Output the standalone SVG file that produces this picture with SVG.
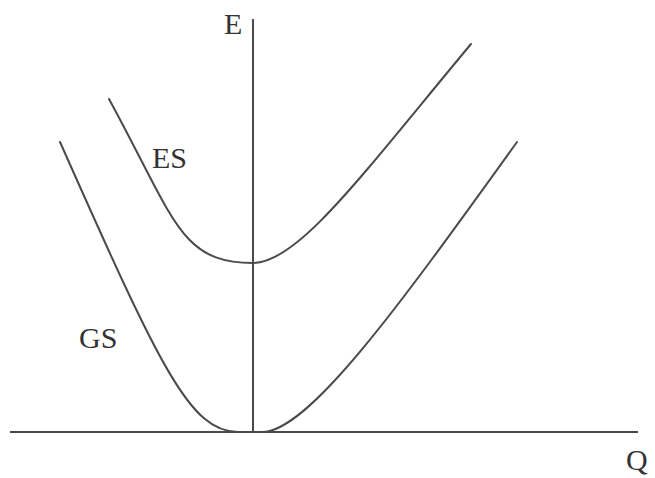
<svg xmlns="http://www.w3.org/2000/svg" width="655" height="478" viewBox="0 0 655 478">
<style>
.ax{stroke:#4a4a4a;stroke-width:2;fill:none}
.cv{stroke:#4a4a4a;stroke-width:2;fill:none;stroke-linecap:round}
.lb{font-family:"Liberation Serif","Times New Roman",serif;font-size:30px;fill:#333}
</style>
<rect width="655" height="478" fill="#ffffff"/>
<g id="axes">
<line class="ax" x1="253" y1="19" x2="253" y2="433"/>
<line class="ax" x1="10" y1="432" x2="638" y2="432"/>
</g>
<g id="curves">
<path id="es" class="cv" d="M109,99 C175,220 180,263 253,263 C298,263 361,176 471,44"/>
<path id="gs-left" class="cv" d="M60,142 C160,367 190,432 238,432"/>
<path id="gs-right" class="cv" d="M262,432 C308,432 397,309 517,142"/>
</g>
<g id="labels">
<text class="lb" x="224" y="34">E</text>
<text class="lb" x="152" y="168">ES</text>
<text class="lb" x="79" y="348">GS</text>
<text class="lb" x="626" y="470">Q</text>
</g>
</svg>
